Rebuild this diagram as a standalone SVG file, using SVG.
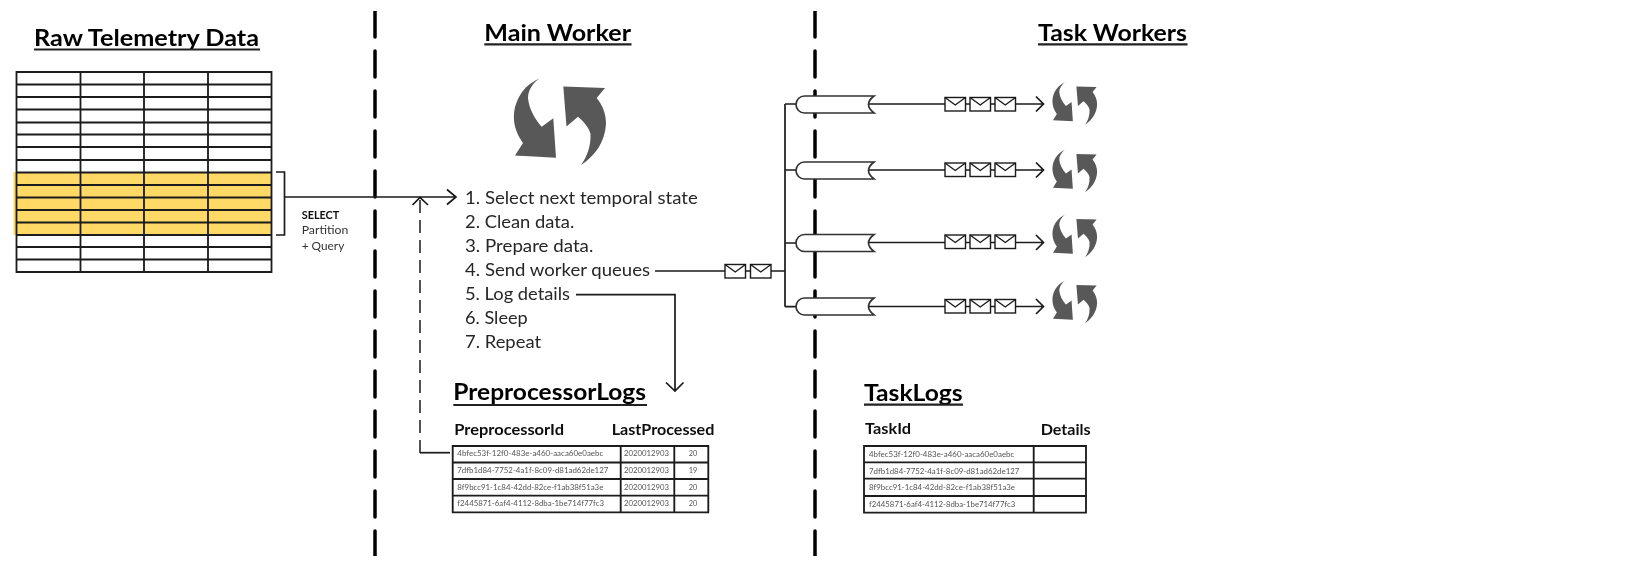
<svg xmlns="http://www.w3.org/2000/svg" xmlns:xlink="http://www.w3.org/1999/xlink" width="1634" height="563" viewBox="0 0 1634 563">
<style>
text{font-family:Lato,"Liberation Sans",sans-serif;fill:#1a1a1a}
.title{font-size:22px;font-weight:700;fill:#000}
.ul{stroke:#222;stroke-width:2.2;fill:none}
.list{font-size:18px;fill:#262626}
.head{font-size:16px;font-weight:700;fill:#111}
.tiny{font-size:7.4px;fill:#555}
.small{font-size:11.5px;fill:#333}
.grid{fill:none;stroke:#1a1a1a;stroke-width:1.8}
.line{fill:none;stroke:#1a1a1a;stroke-width:1.7}
.divider{fill:none;stroke:#000;stroke-width:3.5;stroke-dasharray:26 14;stroke-linecap:round}
.dash{fill:none;stroke:#1a1a1a;stroke-width:1.5;stroke-dasharray:13 7}
.pipe{fill:#fff;stroke:#333;stroke-width:1.7}
.env{fill:#fff;stroke:#1a1a1a;stroke-width:1.4}
.icon{fill:#595959}
</style>
<defs>
<filter id="soft" x="0" y="0" width="100%" height="100%"><feGaussianBlur stdDeviation="0.35"/></filter>
<g id="cycle"><path class="icon" d="M539.3,78.5C527,84 519,93 515,107C512,120 515,132 523,143L515,155.5L556,157.7L553.3,118.3L541.7,126.7C534,118 529,108 528,98C528,90 533,83 539.3,78.5Z"/><path class="icon" d="M563.3,86.5L605,88L596.7,98C603,106 606,114 606,124C605,142 595,156 581,165C587,157 591,146 590.5,134C589,127 583,121 578,116.7L566.5,126.5Z"/></g>
<g id="envelope"><rect class="env" width="20.5" height="13.5"/><path class="env" style="fill:none" d="M0,0L10.25,7.5L20.5,0"/></g>
<path id="pipeShape" class="pipe" d="M874,0H804.5A8.5,8.5 0 0 0 804.5,17H874Q863,8.5 874,0Z"/>
</defs>
<g filter="url(#soft)">
<g id="dividers">
<line class="divider" x1="375" y1="11" x2="375" y2="556"/>
<line class="divider" x1="815" y1="11" x2="815" y2="556"/>
</g>

<g id="raw-telemetry">
<text class="title" x="34" y="46.3" textLength="225" lengthAdjust="spacingAndGlyphs">Raw Telemetry Data</text>
<line class="ul" x1="34" y1="49.5" x2="260" y2="49.5"/>
<rect x="13.5" y="172" width="257.5" height="63" fill="#FFD966"/>
<path class="grid" d="M16.5,72H271.5V272H16.5ZM16.5,84.5H271.5M16.5,97H271.5M16.5,109.5H271.5M16.5,122.5H271.5M16.5,134.5H271.5M16.5,147H271.5M16.5,160H271.5M16.5,172.5H271.5M16.5,185H271.5M16.5,197.5H271.5M16.5,210H271.5M16.5,222.5H271.5M16.5,235H271.5M16.5,247H271.5M16.5,259.5H271.5M80.5,72V272M144,72V272M208,72V272"/>
</g>

<g id="select-label">
<path class="line" d="M276,172H284.5V235H276"/>
<text class="small" style="font-weight:700;fill:#111" x="301.7" y="219.3" textLength="37.6" lengthAdjust="spacingAndGlyphs">SELECT</text>
<text class="small" x="301.7" y="234" textLength="46.6" lengthAdjust="spacingAndGlyphs">Partition</text>
<text class="small" x="301.7" y="250" textLength="42.6" lengthAdjust="spacingAndGlyphs">+ Query</text>
</g>

<g id="connectors">
<path class="line" d="M284.5,197H456M447,189.5L456,197L447,204.5"/>
<path class="line" d="M450,452.7H420"/>
<path class="dash" d="M420,453V198"/>
<path class="line" d="M412.5,205L420,197.5L428,205"/>
<path class="line" d="M655,271H785M785,104V306.7M785,104H800M785,170H800M785,243H800M785,306.7H800"/>
<path class="line" d="M576,294.7H675V390.5M666,382.5L675,391L683.5,382.5"/>
<path class="line" d="M868,104H1043M1036,96.5L1043.5,104L1036,111.5"/>
<path class="line" d="M868,170H1043M1036,162.5L1043.5,170L1036,177.5"/>
<path class="line" d="M868,242.5H1043M1036,235L1043.5,242.5L1036,250"/>
<path class="line" d="M868,306.5H1043M1036,299L1043.5,306.5L1036,314"/>
</g>

<g id="main-worker">
<text class="title" x="484.3" y="40.7" textLength="146.7" lengthAdjust="spacingAndGlyphs">Main Worker</text>
<line class="ul" x1="484.3" y1="44.3" x2="631.5" y2="44.3"/>
<use href="#cycle"/>
<text class="list" x="465" y="204" textLength="232.7" lengthAdjust="spacingAndGlyphs">1. Select next temporal state</text>
<text class="list" x="465" y="228" textLength="109.3" lengthAdjust="spacingAndGlyphs">2. Clean data.</text>
<text class="list" x="465" y="252" textLength="128.3" lengthAdjust="spacingAndGlyphs">3. Prepare data.</text>
<text class="list" x="465" y="276" textLength="185" lengthAdjust="spacingAndGlyphs">4. Send worker queues</text>
<text class="list" x="465" y="300" textLength="105" lengthAdjust="spacingAndGlyphs">5. Log details</text>
<text class="list" x="465" y="324" textLength="62.7" lengthAdjust="spacingAndGlyphs">6. Sleep</text>
<text class="list" x="465" y="348" textLength="76" lengthAdjust="spacingAndGlyphs">7. Repeat</text>
</g>

<g id="main-queue-messages">
<use href="#envelope" transform="translate(725,264.5)"/>
<use href="#envelope" transform="translate(750.5,264.5)"/>
</g>

<g id="preprocessor-logs">
<text class="title" x="453.3" y="400" textLength="192.7" lengthAdjust="spacingAndGlyphs">PreprocessorLogs</text>
<line class="ul" x1="453.3" y1="405" x2="647" y2="405"/>
<text class="head" x="454.3" y="435" textLength="109.7" lengthAdjust="spacingAndGlyphs">PreprocessorId</text>
<text class="head" x="611.7" y="435" textLength="102.6" lengthAdjust="spacingAndGlyphs">LastProcessed</text>
<path class="grid" d="M452.7,446H708.3V512.3H452.7ZM452.7,462.5H708.3M452.7,479H708.3M452.7,495.7H708.3M620.7,446V512.3M674.3,446V512.3"/>
<text class="tiny" x="457.3" y="455.5" textLength="146" lengthAdjust="spacingAndGlyphs">4bfec53f-12f0-483e-a460-aaca60e0aebc</text>
<text class="tiny" x="457.3" y="472.8" textLength="151" lengthAdjust="spacingAndGlyphs">7dfb1d84-7752-4a1f-8c09-d81ad62de127</text>
<text class="tiny" x="457.3" y="489.5" textLength="146" lengthAdjust="spacingAndGlyphs">8f9bcc91-1c84-42dd-82ce-f1ab38f51a3e</text>
<text class="tiny" x="457.3" y="506" textLength="146.7" lengthAdjust="spacingAndGlyphs">f2445871-6af4-4112-8dba-1be714f77fc3</text>
<text class="tiny" x="624" y="455.5" textLength="45" lengthAdjust="spacingAndGlyphs">2020012903</text>
<text class="tiny" x="624" y="472.8" textLength="45" lengthAdjust="spacingAndGlyphs">2020012903</text>
<text class="tiny" x="624" y="489.5" textLength="45" lengthAdjust="spacingAndGlyphs">2020012903</text>
<text class="tiny" x="624" y="506" textLength="45" lengthAdjust="spacingAndGlyphs">2020012903</text>
<text class="tiny" x="693" y="455.5" text-anchor="middle">20</text>
<text class="tiny" x="693" y="472.8" text-anchor="middle">19</text>
<text class="tiny" x="693" y="489.5" text-anchor="middle">20</text>
<text class="tiny" x="693" y="506" text-anchor="middle">20</text>
</g>

<g id="queue-1"><use href="#pipeShape" transform="translate(0,96)"/></g>
<g id="queue-2"><use href="#pipeShape" transform="translate(0,162)"/></g>
<g id="queue-3"><use href="#pipeShape" transform="translate(0,234.5)"/></g>
<g id="queue-4"><use href="#pipeShape" transform="translate(0,298)"/></g>

<g id="messages-1"><use href="#envelope" transform="translate(945,97.5)"/><use href="#envelope" transform="translate(970,97.5)"/><use href="#envelope" transform="translate(995,97.5)"/></g>
<g id="messages-2"><use href="#envelope" transform="translate(945,163)"/><use href="#envelope" transform="translate(970,163)"/><use href="#envelope" transform="translate(995,163)"/></g>
<g id="messages-3"><use href="#envelope" transform="translate(945,235)"/><use href="#envelope" transform="translate(970,235)"/><use href="#envelope" transform="translate(995,235)"/></g>
<g id="messages-4"><use href="#envelope" transform="translate(945,299.5)"/><use href="#envelope" transform="translate(970,299.5)"/><use href="#envelope" transform="translate(995,299.5)"/></g>

<g id="task-workers">
<text class="title" x="1038" y="40.7" textLength="149" lengthAdjust="spacingAndGlyphs">Task Workers</text>
<line class="ul" x1="1038" y1="44.3" x2="1187.5" y2="44.3"/>
</g>
<g id="worker-1"><use href="#cycle" transform="translate(803.2,44) scale(.485 .49)"/></g>
<g id="worker-2"><use href="#cycle" transform="translate(803.2,111.5) scale(.485 .49)"/></g>
<g id="worker-3"><use href="#cycle" transform="translate(803.2,176.5) scale(.485 .49)"/></g>
<g id="worker-4"><use href="#cycle" transform="translate(803.2,242.5) scale(.485 .49)"/></g>

<g id="task-logs">
<text class="title" x="864" y="400.7" textLength="98.7" lengthAdjust="spacingAndGlyphs">TaskLogs</text>
<line class="ul" x1="864" y1="404.7" x2="963" y2="404.7"/>
<text class="head" x="865" y="434" textLength="46" lengthAdjust="spacingAndGlyphs">TaskId</text>
<text class="head" x="1040.7" y="435.3" textLength="50" lengthAdjust="spacingAndGlyphs">Details</text>
<path class="grid" d="M864,446H1086V512.7H864ZM864,462.3H1086M864,478.7H1086M864,496H1086M1033.7,446V512.7"/>
<text class="tiny" x="869" y="456.7" textLength="145.3" lengthAdjust="spacingAndGlyphs">4bfec53f-12f0-483e-a460-aaca60e0aebc</text>
<text class="tiny" x="869" y="474" textLength="150.3" lengthAdjust="spacingAndGlyphs">7dfb1d84-7752-4a1f-8c09-d81ad62de127</text>
<text class="tiny" x="869" y="490" textLength="146" lengthAdjust="spacingAndGlyphs">8f9bcc91-1c84-42dd-82ce-f1ab38f51a3e</text>
<text class="tiny" x="869" y="506.7" textLength="146.3" lengthAdjust="spacingAndGlyphs">f2445871-6af4-4112-8dba-1be714f77fc3</text>
</g>
</g>
</svg>
